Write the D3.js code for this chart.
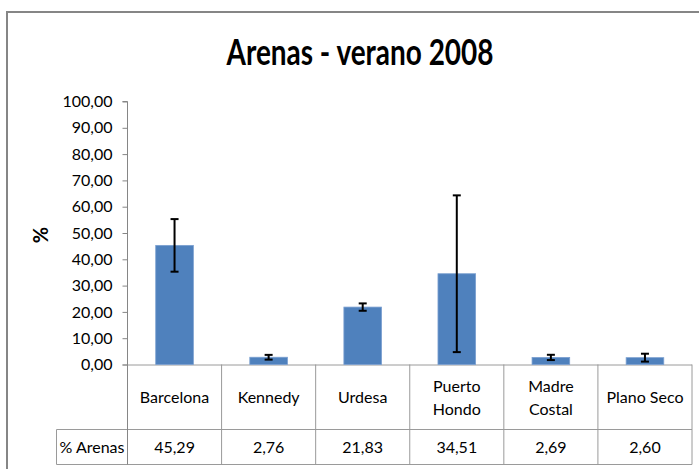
<!DOCTYPE html>
<html>
<head>
<meta charset="utf-8">
<script src="https://cdn.jsdelivr.net/npm/d3@7"></script>
<style>
    body { margin: 0; background: #fff; }
    text { font-family: Lato, "Open Sans", sans-serif; fill: #000; }
</style>
</head>
<body>
<div id="chart"></div>
<script>
'use strict';

// данные графика
const categories = ["Barcelona", "Kennedy", "Urdesa", "Puerto Hondo", "Madre Costal", "Plano Seco"];
const categoryLines = [["Barcelona"], ["Kennedy"], ["Urdesa"], ["Puerto", "Hondo"], ["Madre", "Costal"], ["Plano Seco"]];
const values = [45.29, 2.76, 21.83, 34.51, 2.69, 2.60];
const errors = [10.0, 0.9, 1.4, 29.8, 1.0, 1.5];
const yTicks = [0, 10, 20, 30, 40, 50, 60, 70, 80, 90, 100];
const seriesName = "% Arenas";
const title = "Arenas - verano 2008";

class BarChart {
    constructor(params) {
        this.params = params;
    }

    makeSVG() {
        return d3.select(this.params.id).append("svg")
            .attr("width", this.params.width)
            .attr("height", this.params.height);
    }

    makeScales() {
        let p = this.params;
        this.x = d3.scaleBand()
            .domain(categories)
            .range([p.left, p.right])
            .paddingInner(0.6)
            .paddingOuter(0.3);
        this.y = d3.scaleLinear()
            .domain([0, 100])
            .range([p.bottom, p.top]);
    }

    drawFrame(svg) {
        // рамка области диаграммы (видна только сверху и слева)
        svg.append("path")
            .attr("d", "M7," + this.params.height + "V12H" + this.params.width)
            .style("fill", "none")
            .style("stroke", "#868686")
            .style("stroke-width", 2);

        svg.append("text")
            .attr("x", 360)
            .attr("y", 65)
            .attr("text-anchor", "middle")
            .attr("textLength", 267)
            .attr("lengthAdjust", "spacingAndGlyphs")
            .style("font-size", "36px")
            .style("font-weight", "bold")
            .text(title);

        svg.append("text")
            .attr("transform", "translate(48,235) rotate(-90)")
            .attr("text-anchor", "middle")
            .style("font-size", "20px")
            .style("font-weight", "bold")
            .text("%");
    }

    drawAxisY(svg) {
        let fmt = d => d3.format(".2f")(d).replace(".", ",");
        let axis = svg.append("g")
            .attr("transform", "translate(" + this.params.left + ",0)")
            .call(d3.axisLeft(this.y).tickValues(yTicks).tickFormat(fmt).tickSize(5).tickPadding(10));
        axis.select(".domain").style("stroke", "#868686").attr("d", "M-5," + this.y(100) + "H0V" + this.params.tableBottom);
        axis.selectAll(".tick line").style("stroke", "#868686");
        axis.selectAll(".tick text").style("font-size", "16px").style("font-family", null);
    }

    drawBars(svg) {
        let x = this.x, y = this.y;
        svg.append("g").selectAll("rect")
            .data(values)
            .join("rect")
            .attr("x", (d, i) => x(categories[i]))
            .attr("y", d => y(d))
            .attr("width", x.bandwidth())
            .attr("height", d => y(0) - y(d))
            .style("fill", "#4F81BD")
            .style("stroke", "#7a9fd0")
            .style("stroke-width", 0.8);

        // планки погрешностей
        let cap = 4;
        let g = svg.append("g").style("stroke", "#000").style("stroke-width", 2);
        values.forEach((v, i) => {
            let cx = x(categories[i]) + x.bandwidth() / 2;
            let y1 = y(v + errors[i]), y2 = y(Math.max(0, v - errors[i]));
            g.append("line").attr("x1", cx).attr("x2", cx).attr("y1", y1).attr("y2", y2);
            g.append("line").attr("x1", cx - cap).attr("x2", cx + cap).attr("y1", y1).attr("y2", y1);
            g.append("line").attr("x1", cx - cap).attr("x2", cx + cap).attr("y1", y2).attr("y2", y2);
        });
    }

    drawTable(svg) {
        let p = this.params;
        let colW = (p.right - p.left) / categories.length;
        let colLeft = i => p.left + i * colW;
        let g = svg.append("g");
        let line = (x1, y1, x2, y2) => g.append("line")
            .attr("x1", x1).attr("y1", y1).attr("x2", x2).attr("y2", y2)
            .style("stroke", "#9a9a9a").style("stroke-width", 1);

        // горизонтальные линии
        line(p.left - 5, p.bottom + 0.5, p.right, p.bottom + 0.5);
        line(p.labelLeft, p.rowSplit, p.right, p.rowSplit);
        line(p.labelLeft, p.tableBottom, p.right, p.tableBottom);
        // вертикальные линии
        line(p.labelLeft, p.rowSplit, p.labelLeft, p.tableBottom);
        categories.forEach((c, i) => line(colLeft(i + 1), p.bottom, colLeft(i + 1), p.tableBottom));

        // подписи категорий
        categoryLines.forEach((lines, i) => {
            let cx = colLeft(i) + colW / 2;
            let cy = (p.bottom + p.rowSplit) / 2;
            let t = g.append("text")
                .attr("x", cx)
                .attr("text-anchor", "middle")
                .style("font-size", "16px");
            lines.forEach((s, k) => {
                t.append("tspan")
                    .attr("x", cx)
                    .attr("y", cy + 6 + (k - (lines.length - 1) / 2) * 23)
                    .text(s);
            });
        });

        // значения
        let vy = (p.rowSplit + p.tableBottom) / 2 + 6;
        g.append("text")
            .attr("x", (p.labelLeft + p.left) / 2)
            .attr("y", vy)
            .attr("text-anchor", "middle")
            .style("font-size", "16px")
            .text(seriesName);
        values.forEach((v, i) => {
            g.append("text")
                .attr("x", colLeft(i) + colW / 2)
                .attr("y", vy)
                .attr("text-anchor", "middle")
                .style("font-size", "16px")
                .text(d3.format(".2f")(v).replace(".", ","));
        });
    }

    render() {
        let svg = this.makeSVG();
        this.makeScales();
        this.drawFrame(svg);
        this.drawTable(svg);
        this.drawBars(svg);
        this.drawAxisY(svg);
    }
}

new BarChart({
    id: "#chart",
    width: 699,
    height: 469,
    left: 127.5,
    right: 692,
    top: 101.5,
    bottom: 364.5,
    labelLeft: 56.5,
    rowSplit: 429.5,
    tableBottom: 464.5
}).render();
</script>
</body>
</html>
